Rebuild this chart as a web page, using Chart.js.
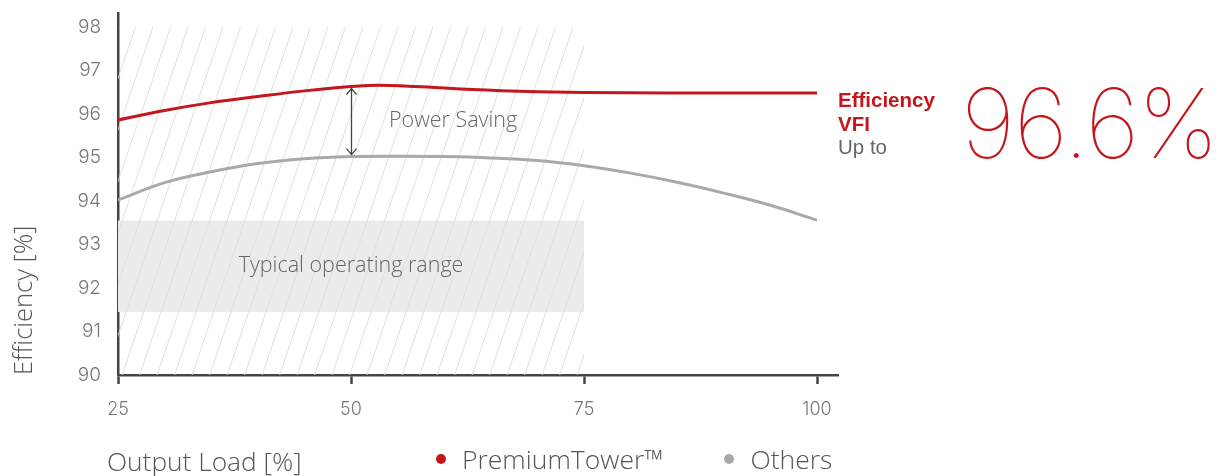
<!DOCTYPE html>
<html>
<head>
<meta charset="utf-8">
<script src="https://cdn.jsdelivr.net/npm/chart.js@4"></script>
<style>
  html, body { margin: 0; padding: 0; background: #fff; }
  #wrap { position: relative; width: 1218px; height: 476px; overflow: hidden; }
  #c { position: absolute; left: 0; top: 0; }
  .xtitle { position: absolute; left: 107px; top: 443px; font-family: "Open Sans", sans-serif; font-weight: 300; font-size: 26.3px; line-height: 36px; color: #555; white-space: nowrap; }
  .legend { position: absolute; top: 441px; left: 436px; font-family: "Open Sans", sans-serif; font-weight: 300; font-size: 26.5px; line-height: 36px; color: #555; white-space: nowrap; display: flex; align-items: center; }
  .legend .item { display: flex; align-items: center; }
  .legend .dot { width: 10px; height: 10px; border-radius: 50%; display: inline-block; margin-right: 16px; }
  .side { position: absolute; left: 838px; top: 88px; font-family: "Liberation Sans", Arial, sans-serif; font-size: 20.5px; line-height: 23.5px; }
  .side .red { color: #c4161c; font-weight: bold; }
  .side .grey { color: #666; }
  .big { position: absolute; left: 961px; top: 66px; font-family: "Inter", "Roboto", sans-serif; font-weight: 100; font-size: 96px; color: #c4161c; letter-spacing: -1.5px; white-space: nowrap; line-height: 1.2; }
</style>
</head>
<body>
<div id="wrap">
  <canvas id="c" width="1218" height="476"></canvas>
  <div class="xtitle" id="xtitle"></div>
  <div class="legend" id="legend"></div>
  <div class="side">
    <div class="red">Efficiency</div>
    <div class="red">VFI</div>
    <div class="grey">Up to</div>
  </div>
  <div class="big">96.6%</div>
</div>
<script>
// ---- data ----
const premiumLoads = [25, 30, 35, 40, 45, 50, 53, 57, 63, 70, 75, 85, 100];
const premiumEff   = [95.86, 96.08, 96.26, 96.4, 96.53, 96.63, 96.66, 96.63, 96.56, 96.51, 96.49, 96.48, 96.48];
const othersLoads  = [25, 30, 35, 40, 45, 50, 55, 60, 65, 70, 75, 80, 85, 90, 95, 100];
const othersEff    = [94.02, 94.42, 94.67, 94.86, 94.97, 95.02, 95.03, 95.02, 94.99, 94.93, 94.81, 94.64, 94.43, 94.18, 93.9, 93.56];
const xTicks = [25, 50, 75, 100];
const yTicks = [90, 91, 92, 93, 94, 95, 96, 97, 98];
const xTitle = 'Output Load [%]';
const yTitle = 'Efficiency [%]';
const seriesNames = ['PremiumTower\u2122', 'Others'];
const seriesColors = ['#c4161c', '#a9a9a9'];
const hatchLoadRange = [25, 75];
const hatchEffRange = [90, 98];
const typicalRange = [91.45, 93.55];
const savingLoad = 50;
const savingFrom = 96.63;
const savingTo = 95.02;

function pts(xs, ys) { return xs.map((x, i) => ({ x: x, y: ys[i] })); }

const annotPlugin = {
  id: 'annot',
  beforeDatasetsDraw(chart) {
    const ctx = chart.ctx, xs = chart.scales.x, ys = chart.scales.y;
    const x0 = xs.getPixelForValue(hatchLoadRange[0]), x1 = xs.getPixelForValue(hatchLoadRange[1]);
    const yTop = ys.getPixelForValue(hatchEffRange[1]), yBot = ys.getPixelForValue(hatchEffRange[0]);
    const b0 = ys.getPixelForValue(typicalRange[1]), b1 = ys.getPixelForValue(typicalRange[0]);
    ctx.save();
    ctx.fillStyle = '#ebebeb';
    ctx.fillRect(x0, b0, x1 - x0, b1 - b0);
    ctx.beginPath();
    ctx.rect(x0, yTop, x1 - x0, yBot - yTop);
    ctx.clip();
    ctx.strokeStyle = '#dcdcdc';
    ctx.lineWidth = 0.9;
    const h = yBot - yTop, slope = 0.34, step = 17.5;
    ctx.beginPath();
    for (let sx = x0 - h * slope; sx < x1 + 10; sx += step) {
      ctx.moveTo(sx, yBot);
      ctx.lineTo(sx + h * slope, yTop);
    }
    ctx.stroke();
    ctx.restore();
    ctx.save();
    ctx.fillStyle = '#666';
    ctx.font = '300 21.5px "Open Sans", sans-serif';
    ctx.textAlign = 'center';
    ctx.textBaseline = 'middle';
    ctx.fillText('Typical operating range', (x0 + x1) / 2, (b0 + b1) / 2);
    ctx.textAlign = 'left';
    ctx.fillText('Power Saving', xs.getPixelForValue(savingLoad) + 38, ys.getPixelForValue((savingFrom + savingTo) / 2) - 1);
    ctx.restore();
  },
  afterDatasetsDraw(chart) {
    const ctx = chart.ctx, xs = chart.scales.x, ys = chart.scales.y;
    const ax = Math.round(xs.getPixelForValue(savingLoad)) + 0.5;
    const a0 = ys.getPixelForValue(savingFrom) + 2, a1 = ys.getPixelForValue(savingTo) - 2;
    ctx.save();
    ctx.strokeStyle = '#444';
    ctx.lineWidth = 1.3;
    ctx.beginPath();
    ctx.moveTo(ax, a0); ctx.lineTo(ax, a1);
    ctx.moveTo(ax - 5, a0 + 6); ctx.lineTo(ax, a0); ctx.lineTo(ax + 5, a0 + 6);
    ctx.moveTo(ax - 5, a1 - 6); ctx.lineTo(ax, a1); ctx.lineTo(ax + 5, a1 - 6);
    ctx.stroke();
    ctx.restore();
  }
};

const chart = new Chart(document.getElementById('c'), {
  type: 'line',
  data: {
    datasets: [
      { label: seriesNames[0], data: pts(premiumLoads, premiumEff), borderColor: seriesColors[0], backgroundColor: seriesColors[0], borderWidth: 3, pointRadius: 0, cubicInterpolationMode: 'monotone', fill: false },
      { label: seriesNames[1], data: pts(othersLoads, othersEff), borderColor: seriesColors[1], backgroundColor: seriesColors[1], borderWidth: 3, pointRadius: 0, tension: 0.4, fill: false }
    ]
  },
  options: {
    responsive: false,
    animation: false,
    devicePixelRatio: 1,
    layout: { padding: { top: 13, right: 380, left: 0, bottom: 0 } },
    plugins: { legend: { display: false }, tooltip: { enabled: false } },
    scales: {
      x: {
        type: 'linear', min: 25, max: 102.25,
        afterBuildTicks: s => { s.ticks = xTicks.map(v => ({ value: v })); },
        afterFit: s => { s.height = 101; s.paddingLeft = 0; s.paddingRight = 0; },
        grid: { display: true, drawOnChartArea: false, drawTicks: true, tickLength: 9, tickWidth: 2.5, tickColor: '#444' },
        border: { display: true, color: '#444', width: 2.5 },
        ticks: { color: '#777', padding: 15, font: { family: '"Inter", sans-serif', weight: 300, size: 18 }, maxRotation: 0 }
      },
      y: {
        type: 'linear', min: 90, max: 98.32,
        afterBuildTicks: s => { s.ticks = yTicks.map(v => ({ value: v })); },
        afterFit: s => { s.width = 118; s.paddingTop = 0; s.paddingBottom = 0; },
        grid: { display: false },
        border: { display: true, color: '#444', width: 2.5 },
        ticks: { color: '#777', padding: 9, font: { family: '"Inter", sans-serif', weight: 300, size: 19 } },
        title: { display: true, text: yTitle, align: 'start', color: '#555', font: { family: '"Open Sans", sans-serif', weight: 300, size: 25.5 }, padding: { top: 9, bottom: 0 } }
      }
    }
  },
  plugins: [annotPlugin]
});

document.getElementById('xtitle').textContent = xTitle;
const lg = document.getElementById('legend');
seriesNames.forEach((n, i) => {
  const it = document.createElement('span');
  it.className = 'item';
  it.style.marginRight = i === 0 ? '61px' : '0';
  const d = document.createElement('span');
  d.className = 'dot'; d.style.background = seriesColors[i];
  it.appendChild(d);
  it.appendChild(document.createTextNode(n));
  lg.appendChild(it);
});
</script>
</body>
</html>
